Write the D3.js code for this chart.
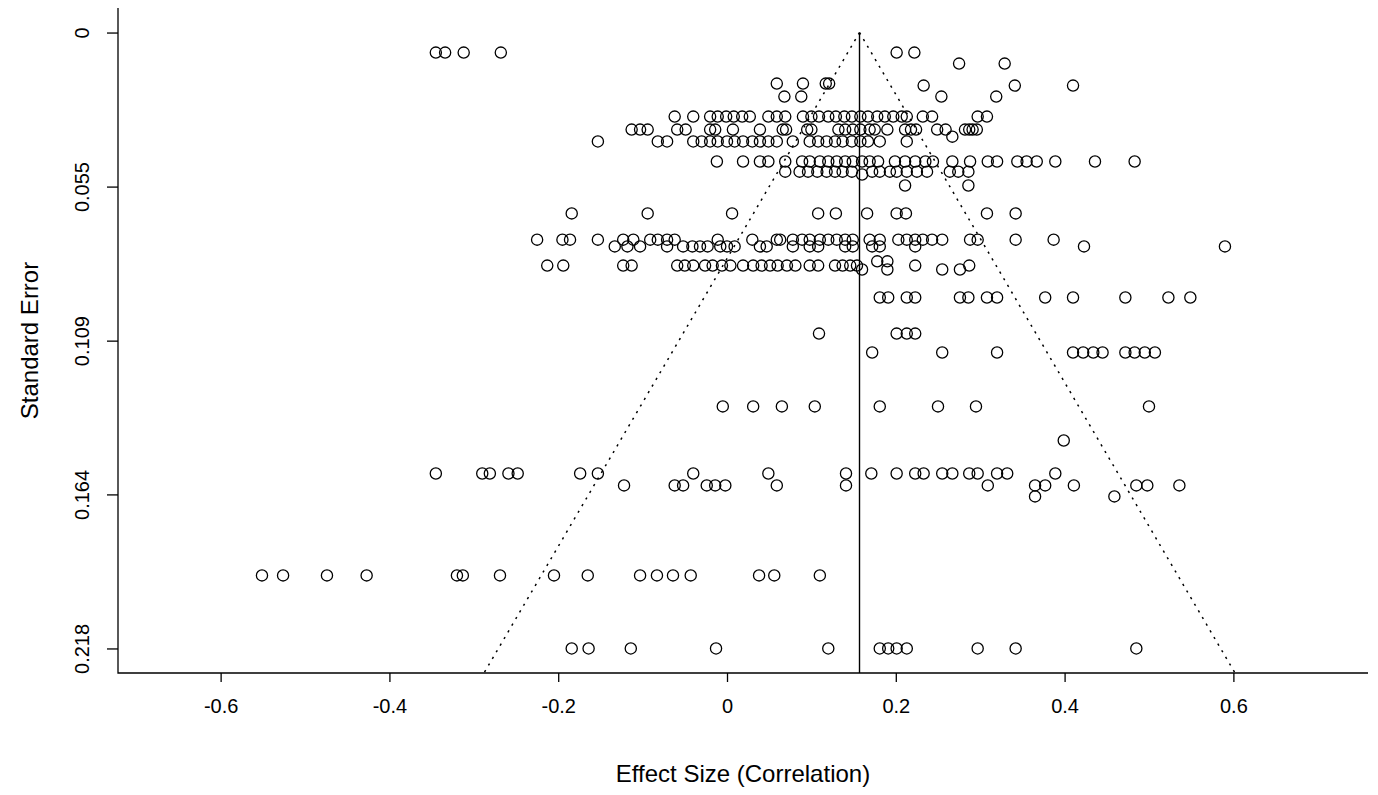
<!DOCTYPE html>
<html>
<head>
<meta charset="utf-8">
<script src="https://cdn.jsdelivr.net/npm/d3@7"></script>
<style>
  body { margin: 0; background: #fff; }
  svg { display: block; font-family: "Liberation Sans", Arial, sans-serif; }
</style>
</head>
<body>
<svg id="funnel" width="1378" height="795"></svg>
<script>
// pooled estimate (vertical line) and the tick marks of both axes
const estimate = 0.157;
const esTicks = [-0.6, -0.4, -0.2, 0, 0.2, 0.4, 0.6];
const esTickLabels = ["-0.6", "-0.4", "-0.2", "0", "0.2", "0.4", "0.6"];
const seTicks = [0, 0.0546, 0.1092, 0.1637, 0.2183];
const seTickLabels = ["0", "0.055", "0.109", "0.164", "0.218"];

// studies grouped by standard error: one SE per row, effect sizes in that row
const rowSE = [0.0071, 0.0110, 0.0181, 0.0188, 0.0227, 0.0298, 0.0344, 0.0369, 0.0386,
  0.0457, 0.0493, 0.0503, 0.0542, 0.0641, 0.0734, 0.0758, 0.0811, 0.0826, 0.0840,
  0.0939, 0.1067, 0.1134, 0.1325, 0.1446, 0.1563, 0.1605, 0.1644, 0.1924, 0.2183];

const rowEffects = [
  [-0.345, -0.334, -0.312, -0.268, 0.201, 0.222],
  [0.275, 0.329],
  [0.059, 0.090, 0.117, 0.121],
  [0.233, 0.341, 0.410],
  [0.068, 0.088, 0.254, 0.319],
  [-0.062, -0.040, -0.020, -0.011, -0.001, 0.008, 0.018, 0.027, 0.049, 0.059, 0.069,
    0.090, 0.100, 0.109, 0.120, 0.129, 0.139, 0.148, 0.158, 0.167, 0.178, 0.187, 0.197,
    0.207, 0.213, 0.232, 0.243, 0.297, 0.308],
  [-0.113, -0.103, -0.094, -0.059, -0.049, -0.020, -0.014, 0.007, 0.039, 0.066, 0.070,
    0.095, 0.100, 0.132, 0.140, 0.149, 0.158, 0.169, 0.175, 0.190, 0.211, 0.218, 0.224,
    0.249, 0.259, 0.282, 0.287, 0.291, 0.296],
  [0.267],
  [-0.153, -0.082, -0.071, -0.040, -0.030, -0.020, -0.011, 0.000, 0.009, 0.019, 0.030,
    0.039, 0.049, 0.059, 0.078, 0.098, 0.108, 0.118, 0.128, 0.137, 0.148, 0.158, 0.167,
    0.181, 0.213],
  [-0.012, 0.019, 0.039, 0.049, 0.069, 0.089, 0.098, 0.110, 0.120, 0.130, 0.140, 0.149,
    0.160, 0.169, 0.179, 0.199, 0.211, 0.223, 0.235, 0.244, 0.267, 0.288, 0.309, 0.320,
    0.344, 0.355, 0.367, 0.389, 0.436, 0.483],
  [0.069, 0.086, 0.096, 0.107, 0.118, 0.128, 0.137, 0.148, 0.172, 0.181, 0.193, 0.201,
    0.213, 0.225, 0.237, 0.264, 0.274, 0.286],
  [0.160],
  [0.211, 0.286],
  [-0.184, -0.094, 0.006, 0.108, 0.129, 0.166, 0.201, 0.212, 0.308, 0.342],
  [-0.225, -0.195, -0.186, -0.153, -0.123, -0.111, -0.091, -0.082, -0.071, -0.062, -0.011,
    0.030, 0.059, 0.063, 0.078, 0.089, 0.098, 0.110, 0.120, 0.130, 0.140, 0.149, 0.169,
    0.181, 0.203, 0.213, 0.223, 0.232, 0.243, 0.255, 0.288, 0.297, 0.342, 0.387],
  [-0.133, -0.118, -0.103, -0.071, -0.052, -0.041, -0.032, -0.023, -0.008, 0.000, 0.009,
    0.039, 0.047, 0.078, 0.098, 0.108, 0.140, 0.149, 0.172, 0.181, 0.223, 0.423, 0.590],
  [0.178, 0.190],
  [-0.213, -0.194, -0.123, -0.113, -0.059, -0.050, -0.040, -0.026, -0.017, -0.006, 0.004,
    0.019, 0.031, 0.041, 0.051, 0.060, 0.071, 0.081, 0.098, 0.108, 0.128, 0.137, 0.146,
    0.154, 0.223, 0.287],
  [0.160, 0.190, 0.255, 0.276],
  [0.181, 0.191, 0.213, 0.223, 0.276, 0.286, 0.308, 0.320, 0.377, 0.410, 0.472, 0.523, 0.549],
  [0.109, 0.201, 0.213, 0.223],
  [0.172, 0.255, 0.320, 0.410, 0.422, 0.434, 0.445, 0.472, 0.483, 0.495, 0.507],
  [-0.005, 0.031, 0.065, 0.104, 0.181, 0.250, 0.295, 0.500],
  [0.399],
  [-0.345, -0.290, -0.281, -0.259, -0.248, -0.174, -0.153, -0.040, 0.049, 0.141, 0.171,
    0.201, 0.223, 0.233, 0.255, 0.267, 0.287, 0.297, 0.320, 0.332, 0.389],
  [-0.122, -0.062, -0.052, -0.024, -0.014, -0.002, 0.059, 0.141, 0.309, 0.365, 0.377,
    0.411, 0.485, 0.498, 0.536],
  [0.365, 0.459],
  [-0.551, -0.526, -0.474, -0.427, -0.320, -0.313, -0.269, -0.205, -0.165, -0.103, -0.083,
    -0.064, -0.043, 0.038, 0.056, 0.110],
  [-0.184, -0.164, -0.114, -0.013, 0.120, 0.181, 0.191, 0.201, 0.213, 0.297, 0.342, 0.485]
];

// flatten rows into points
let studies = [];
rowSE.forEach((se, i) => {
  for (const es of rowEffects[i]) studies.push({ es: es, se: se });
});

const svg = d3.select("#funnel");
const plot = { left: 118, right: 1368, top: 8, bottom: 673 };

// R style plot region: 4% padding around the data range
const x = d3.scaleLinear().domain([-0.7216, 0.7595]).range([plot.left, plot.right]);
const y = d3.scaleLinear().domain([-0.0087, 0.227]).range([plot.top, plot.bottom]);
const seMax = y.domain()[1];

svg.append("rect").attr("width", 1378).attr("height", 795).attr("fill", "#fff");

// funnel (pseudo 95% limits)
const funnel = [
  [[estimate, 0], [estimate - 1.96 * seMax, seMax]],
  [[estimate, 0], [estimate + 1.96 * seMax, seMax]]
];
svg.append("g").selectAll("line")
  .data(funnel).enter().append("line")
  .attr("x1", d => x(d[0][0])).attr("y1", d => y(d[0][1]))
  .attr("x2", d => x(d[1][0])).attr("y2", d => y(d[1][1]))
  .attr("stroke", "#000")
  .attr("stroke-width", 1.5)
  .attr("stroke-dasharray", "2.2,5.5");

// vertical line at the estimate
svg.append("line")
  .attr("x1", x(estimate)).attr("x2", x(estimate))
  .attr("y1", y(0)).attr("y2", plot.bottom)
  .attr("stroke", "#000").attr("stroke-width", 1.4);

// points
svg.append("g").selectAll("circle")
  .data(studies).enter().append("circle")
  .attr("cx", d => x(d.es))
  .attr("cy", d => y(d.se))
  .attr("r", 5.6)
  .attr("fill", "none")
  .attr("stroke", "#000")
  .attr("stroke-width", 1.3);

// axes, L-shaped box
const xAxis = d3.axisBottom(x).tickValues(esTicks)
  .tickFormat((d, i) => esTickLabels[i]).tickSize(9).tickPadding(17);
const gx = svg.append("g").attr("transform", `translate(0,${plot.bottom})`).call(xAxis);
gx.select(".domain").remove();

const yAxis = d3.axisLeft(y).tickValues(seTicks)
  .tickFormat((d, i) => seTickLabels[i]).tickSize(11).tickPadding(0);
const gy = svg.append("g").attr("transform", `translate(${plot.left},0)`).call(yAxis);
gy.select(".domain").remove();

svg.selectAll(".tick line").attr("stroke", "#000").attr("stroke-width", 1.3);
svg.selectAll(".tick text").attr("fill", "#000").style("font-size", "20px")
  .style("font-family", "'Liberation Sans', Arial, sans-serif");

// rotate y tick labels like R (las = 0)
gy.selectAll(".tick text")
  .attr("x", null).attr("dy", null)
  .attr("text-anchor", "middle")
  .attr("transform", "translate(-29,0) rotate(-90)");

svg.append("path")
  .attr("d", `M${plot.left},${plot.top}V${plot.bottom}H${plot.right}`)
  .attr("fill", "none").attr("stroke", "#000").attr("stroke-width", 1.3);

// axis titles
svg.append("text")
  .attr("x", (plot.left + plot.right) / 2).attr("y", 782)
  .attr("text-anchor", "middle").style("font-size", "24px")
  .text("Effect Size (Correlation)");

svg.append("text")
  .attr("transform", `translate(38,${(plot.top + plot.bottom) / 2}) rotate(-90)`)
  .attr("text-anchor", "middle").style("font-size", "24px")
  .text("Standard Error");
</script>
</body>
</html>
